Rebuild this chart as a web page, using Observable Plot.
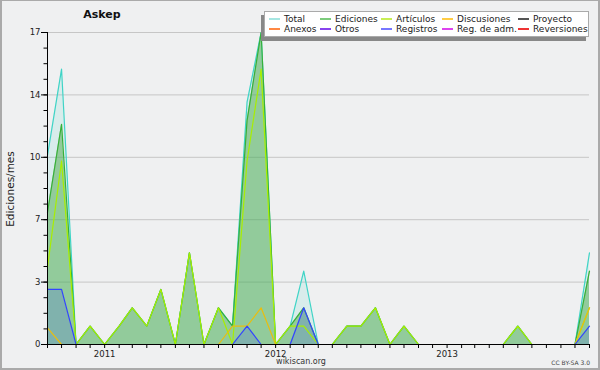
<!DOCTYPE html>
<html><head><meta charset="utf-8">
<script src="https://cdn.jsdelivr.net/npm/d3@7"></script>
<script src="https://cdn.jsdelivr.net/npm/@observablehq/plot@0.6"></script>
<style>
html,body{margin:0;padding:0;background:#eff0f1;}
#wrap{position:relative;width:600px;height:370px;background:#eff0f1;overflow:hidden;font-family:"DejaVu Sans",sans-serif;color:#222;}
#chart{position:absolute;left:0;top:0;}
#frame{position:absolute;left:0;top:0;width:600px;height:370px;box-sizing:border-box;border:2px solid #aaa;border-top-width:1px;pointer-events:none;}
.abs{position:absolute;white-space:nowrap;}
#title{left:102px;top:14px;transform:translate(-50%,-50%);font-weight:bold;font-size:11px;color:#111;}
#ylab{left:10px;top:189px;transform:translate(-50%,-50%) rotate(-90deg);font-size:10.5px;color:#222;}
#site{left:301px;top:361px;transform:translate(-50%,-50%);font-size:8px;color:#333;}
#cc{left:590px;top:362px;transform:translate(-100%,-50%);font-size:6px;color:#444;}
#legend{left:264px;top:11px;width:325px;height:26px;box-sizing:border-box;background:#fff;border:1px solid #aaa;box-shadow:-3px 4px 0 #888;}
.lg-line{position:absolute;height:1.2px;}
.lg-text{position:absolute;font-size:9px;color:#222;transform:translateY(-50%);white-space:nowrap;}
</style></head>
<body>
<div id="wrap">
  <div id="chart"></div>
  <div class="abs" id="title"></div>
  <div class="abs" id="ylab"></div>
  <div class="abs" id="site"></div>
  <div class="abs" id="cc"></div>
  <div class="abs" id="legend"></div>
  <div id="frame"></div>
</div>
<script>
// ---- data ----
const months = ["2010-09","2010-10","2010-11","2010-12",
  "2011-01","2011-02","2011-03","2011-04","2011-05","2011-06","2011-07","2011-08","2011-09","2011-10","2011-11","2011-12",
  "2012-01","2012-02","2012-03","2012-04","2012-05","2012-06","2012-07","2012-08","2012-09","2012-10","2012-11","2012-12",
  "2013-01","2013-02","2013-03","2013-04","2013-05","2013-06","2013-07","2013-08","2013-09","2013-10","2013-11"];
const total       = [10.3,15,0,1, 0,1,2,1,3,0,5,0,2,1,13.2,17, 0,1,4,0,0,1,1,2,0,1,0,0, 0,0,0,0,0,1,0,0,0,0,5];
const ediciones   = [7.2,12,0,1, 0,1,2,1,3,0,5,0,2,1,12.2,17, 0,1,2,0,0,1,1,2,0,1,0,0, 0,0,0,0,0,1,0,0,0,0,4];
const articulos   = [4.2,10,0,1, 0,1,2,1,3,0,5,0,2,0,10,15,   0,1,1,0,0,1,1,2,0,1,0,0, 0,0,0,0,0,1,0,0,0,0,2];
const discusiones = [0.9,0,0,0,  0,0,0,0,0,0,0,0,0,1,1,2,      0,0,0,0,0,0,0,0,0,0,0,0, 0,0,0,0,0,0,0,0,0,0,2];
const registros   = [3,3,0,0,    0,0,0,0,0,0,0,0,0,0,1,0,      0,0,2,0,0,0,0,0,0,0,0,0, 0,0,0,0,0,0,0,0,0,0,1];
const yTickValues = [0, 3.4, 6.8, 10.2, 13.6, 17];
const yTickLabels = ["0","3","7","10","14","17"];
const yearTicks = ["2011-01","2012-01","2013-01"];
const yearLabels = ["2011","2012","2013"];
const legendLabels = ["Total","Ediciones","Artículos","Discusiones","Proyecto","Anexos","Otros","Registros","Reg. de adm.","Reversiones"];
const legendColors = ["#a6e6e2","#7ccb7c","#c8ee55","#ffcc44","#555555","#ff8844","#8844ee","#7777ff","#dd44ee","#ee3333"];
const titleText = "Askep";
const yLabelText = "Ediciones/mes";
const siteText = "wikiscan.org";
const ccText = "CC BY-SA 3.0";

// ---- build ----
const parse = s => new Date(s + "-01T00:00:00Z");
const dates = months.map(parse);
const data = dates.map((d, i) => ({date: d, total: total[i], ediciones: ediciones[i], articulos: articulos[i], discusiones: discusiones[i], registros: registros[i]}));
const yMinor = d3.range(0, 17.001, 17 / 20);
const yearDates = yearTicks.map(parse);
const x0 = dates[0], x1 = dates[dates.length - 1];

const chart = Plot.plot({
  width: 600, height: 370,
  marginLeft: 47, marginRight: 11, marginTop: 32, marginBottom: 26,
  x: {type: "utc", domain: [x0, x1]},
  y: {domain: [0, 17]},
  style: {fontFamily: "DejaVu Sans", fontSize: "8.5px", background: "transparent", color: "#222", overflow: "visible"},
  marks: [
    Plot.gridY(yTickValues, {stroke: "#c6c6c6", strokeOpacity: 1}),
    Plot.areaY(data, {x: "date", y: "total", fill: "#40d0c8", fillOpacity: 0.13}),
    Plot.areaY(data, {x: "date", y: "ediciones", fill: "#4caa4c", fillOpacity: 0.5}),
    Plot.areaY(data, {x: "date", y: "registros", fill: "#3344ff", fillOpacity: 0.18}),
    Plot.lineY(data, {x: "date", y: "total", stroke: "#3fd4c6", strokeWidth: 1.2}),
    Plot.lineY(data, {x: "date", y: "ediciones", stroke: "#38b038", strokeWidth: 1.2}),
    Plot.lineY(data, {x: "date", y: "articulos", stroke: "#a8ee00", strokeWidth: 1.2}),
    Plot.lineY(data, {x: "date", y: "discusiones", stroke: "#e8be10", strokeWidth: 1.2}),
    Plot.lineY(data, {x: "date", y: "registros", stroke: "#3344ff", strokeWidth: 1.2}),
    Plot.ruleY([0], {stroke: "#000"}),
    Plot.ruleX([x0], {stroke: "#000"}),
    Plot.axisY({ticks: yTickValues, tickSize: 6, tickPadding: 1, label: null, tickFormat: d => yTickLabels[yTickValues.indexOf(d)], stroke: "#000"}),
    Plot.axisY({ticks: yMinor, tickSize: 3.5, label: null, tickFormat: () => "", stroke: "#000"}),
    Plot.axisX({ticks: dates, tickSize: 4, label: null, tickFormat: () => "", stroke: "#000"}),
    Plot.axisX({ticks: yearDates, tickSize: 0, tickPadding: 6, label: null, tickFormat: d => yearLabels[yearDates.findIndex(t => +t === +d)]})
  ]
});
document.getElementById("chart").appendChild(chart);

document.getElementById("title").textContent = titleText;
document.getElementById("ylab").textContent = yLabelText;
document.getElementById("site").textContent = siteText;
document.getElementById("cc").textContent = ccText;

// legend layout (page coordinates -> relative to legend box)
const lg = document.getElementById("legend");
const colText = [284, 335, 396, 457, 533];
const rowY = [19, 29];
const boxL = 264 + 1, boxT = 11 + 1;
legendLabels.forEach((lab, i) => {
  const r = Math.floor(i / 5), c = i % 5;
  const tx = colText[c] - boxL, ty = rowY[r] - boxT;
  const ln = document.createElement("div");
  ln.className = "lg-line";
  ln.style.left = (tx - 15) + "px";
  ln.style.width = "11px";
  ln.style.top = (ty - 0.6) + "px";
  ln.style.background = legendColors[i];
  lg.appendChild(ln);
  const t = document.createElement("div");
  t.className = "lg-text";
  t.style.left = tx + "px";
  t.style.top = ty + "px";
  t.textContent = lab;
  lg.appendChild(t);
});
</script>
</body></html>
